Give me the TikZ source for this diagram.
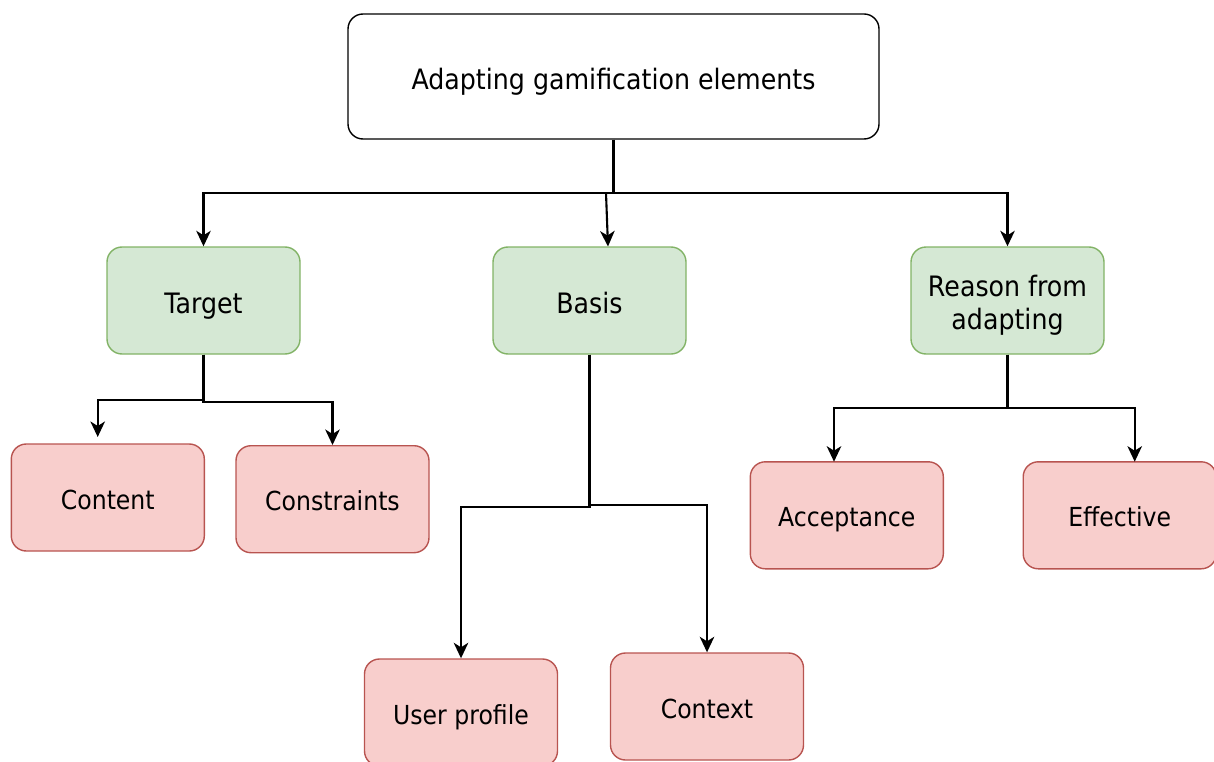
\documentclass[tikz,border=0pt]{standalone}
\usepackage{fontspec}
\setmainfont{DejaVu Sans}[FakeStretch=0.9]
\usetikzlibrary{arrows.meta}

\definecolor{greenfill}{HTML}{D5E8D4}
\definecolor{greenline}{HTML}{82B366}
\definecolor{redfill}{HTML}{F8CECC}
\definecolor{redline}{HTML}{B85450}

\tikzset{
  box/.style={rounded corners=15pt, inner sep=0pt, align=center,
    minimum width=193pt, minimum height=107pt},
  bigtext/.style={font=\fontsize{28.1}{33.6}\selectfont},
  smalltext/.style={font=\fontsize{26.2}{31}\selectfont,
    text height=23.1pt, text depth=0pt},
  rootbox/.style={box, bigtext, draw=black, line width=1.4pt, fill=white,
    minimum width=531pt, minimum height=125pt,
    text height=25.5pt, text depth=0pt},
  greenbox/.style={box, bigtext, draw=greenline, line width=1.4pt,
    fill=greenfill},
  oneline/.style={text height=25.5pt, text depth=0pt},
  redbox/.style={box, smalltext, draw=redline, line width=1.4pt,
    fill=redfill},
  conn/.style={draw=black, line width=2.1pt,
    -{Stealth[length=15.5pt, width=14.5pt, inset=4.5pt]}},
  link/.style={draw=black, line width=2.1pt},
}

\begin{document}
\begin{tikzpicture}[x=1pt, y=-1pt]
  \useasboundingbox (0,0) rectangle (1214,762);

  % top level
  \node[rootbox] (root) at (613.5,76.5) {Adapting gamification elements};

  % second level
  \node[greenbox, oneline] (target) at (203.5,300.5) {Target};
  \node[greenbox, oneline] (basis)  at (589.5,300.5) {Basis};
  \node[greenbox] (reason) at (1007.5,300.5)
    {\rule{0pt}{30.6pt}Reason from\\adapting};

  % third level
  \node[redbox] (content)     at (107.8,497.5) {Content};
  \node[redbox] (constraints) at (332.5,499.2) {Constraints};
  \node[redbox] (userprofile) at (461,712.5)   {User profile};
  \node[redbox] (context)     at (707,706.5)   {Context};
  \node[redbox] (acceptance)  at (846.8,515.3) {Acceptance};
  \node[redbox] (effective)   at (1119.7,515.3){Effective};

  % junctions and free arrow ends
  \coordinate (bus)   at (613.5,193);
  \coordinate (busB)  at (606,193);
  \coordinate (tipB)  at (608,246.5);
  \coordinate (tipCn) at (97.7,437);
  \coordinate (tipAc) at (834,461.7);
  \coordinate (tipEf) at (1134.7,461.7);

  % root to second level
  \draw[link] (root.south) -- (bus);
  \draw[conn] (bus) -| (target.north);
  \draw[conn] (bus) -| (reason.north);
  \draw[conn] (busB) -- (tipB);

  % Target children
  \draw[conn] (target.south) -- ++(0,45) -| (tipCn);
  \draw[conn] (target.south) -- ++(0,47) -| (constraints.north);

  % Basis children
  \draw[conn] (basis.south) -- ++(0,152) -| (userprofile.north);
  \draw[conn] (basis.south) -- ++(0,150) -| (context.north);

  % Reason children
  \draw[conn] (reason.south) -- ++(0,53.5) -| (tipAc);
  \draw[conn] (reason.south) -- ++(0,53.5) -| (tipEf);
\end{tikzpicture}
\end{document}
